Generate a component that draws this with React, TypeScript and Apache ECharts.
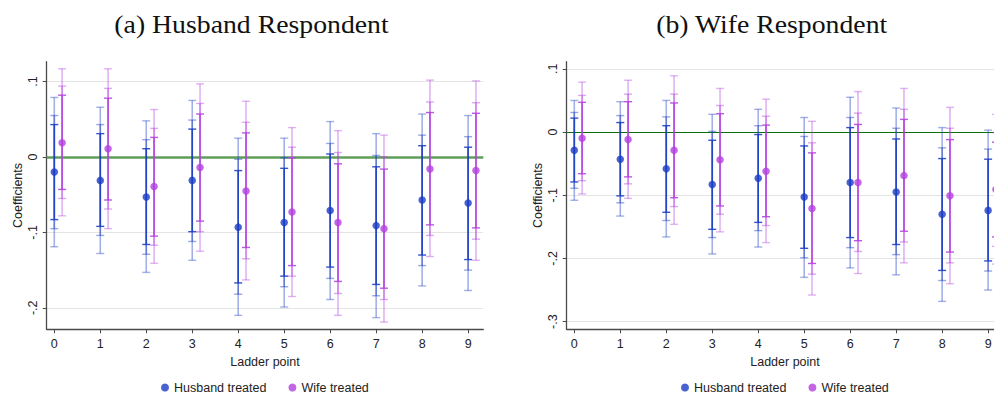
import React, { useEffect, useRef } from "react";
import * as echarts from "echarts";

const ladderPoints = [0, 1, 2, 3, 4, 5, 6, 7, 8, 9];
const xTickValues = [0, 1, 2, 3, 4, 5, 6, 7, 8, 9];
const yTicksA = [-0.2, -0.1, 0, 0.1];
const yTicksB = [-0.3, -0.2, -0.1, 0, 0.1];
const legendNames = ["Husband treated", "Wife treated"];
const panelTitles = ["(a) Husband Respondent", "(b) Wife Respondent"];

// Panel (a) Husband respondent — husband treated
const aHusPt = [-0.020, -0.031, -0.053, -0.031, -0.093, -0.087, -0.071, -0.091, -0.057, -0.061];
const aHusHi99 = [0.079, 0.066, 0.048, 0.075, 0.025, 0.025, 0.047, 0.031, 0.057, 0.055];
const aHusHi95 = [0.055, 0.043, 0.023, 0.049, -0.003, -0.001, 0.018, 0.002, 0.029, 0.027];
const aHusHi90 = [0.043, 0.031, 0.011, 0.037, -0.018, -0.015, 0.004, -0.013, 0.015, 0.013];
const aHusLo90 = [-0.083, -0.092, -0.116, -0.099, -0.167, -0.158, -0.146, -0.169, -0.130, -0.136];
const aHusLo95 = [-0.095, -0.104, -0.129, -0.112, -0.182, -0.172, -0.161, -0.184, -0.144, -0.150];
const aHusLo99 = [-0.119, -0.128, -0.153, -0.137, -0.210, -0.199, -0.189, -0.213, -0.171, -0.177];

// Panel (a) — wife treated
const aWifPt = [0.019, 0.011, -0.039, -0.014, -0.045, -0.073, -0.087, -0.095, -0.016, -0.018];
const aWifHi99 = [0.117, 0.117, 0.063, 0.097, 0.074, 0.039, 0.035, 0.029, 0.102, 0.101];
const aWifHi95 = [0.094, 0.091, 0.038, 0.071, 0.046, 0.013, 0.006, 0.000, 0.073, 0.072];
const aWifHi90 = [0.082, 0.078, 0.026, 0.057, 0.032, -0.001, -0.009, -0.016, 0.059, 0.058];
const aWifLo90 = [-0.043, -0.057, -0.105, -0.085, -0.120, -0.144, -0.165, -0.174, -0.090, -0.094];
const aWifLo95 = [-0.055, -0.069, -0.117, -0.099, -0.135, -0.158, -0.181, -0.189, -0.104, -0.109];
const aWifLo99 = [-0.078, -0.095, -0.141, -0.125, -0.163, -0.185, -0.210, -0.219, -0.132, -0.137];

// Panel (b) Wife respondent — husband treated
const bHusPt = [-0.029, -0.043, -0.058, -0.083, -0.073, -0.103, -0.080, -0.095, -0.130, -0.124];
const bHusHi99 = [0.050, 0.048, 0.050, 0.028, 0.036, 0.023, 0.055, 0.038, 0.007, 0.003];
const bHusHi95 = [0.031, 0.026, 0.024, 0.001, 0.010, -0.007, 0.023, 0.006, -0.025, -0.027];
const bHusHi90 = [0.022, 0.015, 0.010, -0.013, -0.004, -0.022, 0.007, -0.011, -0.042, -0.043];
const bHusLo90 = [-0.079, -0.101, -0.127, -0.154, -0.143, -0.184, -0.167, -0.178, -0.219, -0.204];
const bHusLo95 = [-0.089, -0.112, -0.140, -0.167, -0.156, -0.199, -0.183, -0.194, -0.235, -0.220];
const bHusLo99 = [-0.108, -0.133, -0.166, -0.193, -0.182, -0.230, -0.215, -0.226, -0.268, -0.250];

// Panel (b) — wife treated
const bWifPt = [-0.010, -0.012, -0.029, -0.044, -0.062, -0.121, -0.080, -0.069, -0.101, -0.091];
const bWifHi99 = [0.079, 0.082, 0.089, 0.069, 0.052, 0.017, 0.064, 0.069, 0.039, 0.028];
const bWifHi95 = [0.058, 0.060, 0.060, 0.042, 0.025, -0.017, 0.030, 0.036, 0.006, -0.001];
const bWifHi90 = [0.047, 0.048, 0.046, 0.029, 0.011, -0.033, 0.012, 0.020, -0.012, -0.016];
const bWifLo90 = [-0.066, -0.071, -0.104, -0.117, -0.134, -0.208, -0.172, -0.157, -0.190, -0.166];
const bWifLo95 = [-0.077, -0.082, -0.118, -0.130, -0.148, -0.225, -0.189, -0.174, -0.207, -0.181];
const bWifLo99 = [-0.098, -0.105, -0.146, -0.158, -0.175, -0.258, -0.224, -0.207, -0.240, -0.209];

const BLUE = [26, 60, 196];
const MAGENTA = [180, 64, 224];
const WIFE_OFFSET = 0.17;

const rgba = (c: number[], a: number) => `rgba(${c[0]},${c[1]},${c[2]},${a})`;

const fmtY = (v: number) => {
  if (Math.abs(v) < 1e-9) return "0";
  return (v < 0 ? "-" : "") + Math.abs(v).toFixed(1).replace(/^0/, "");
};

function buildRows(offset: number, pt: number[], lo99: number[], hi99: number[], lo95: number[], hi95: number[], lo90: number[], hi90: number[]) {
  return ladderPoints.map((x, i) => [x + offset, pt[i], lo99[i], hi99[i], lo95[i], hi95[i], lo90[i], hi90[i]]);
}

function errorSeries(idx: number, rows: number[][], color: number[]) {
  const levels = [
    [2, 3, 0.4],
    [4, 5, 0.45],
    [6, 7, 0.88],
  ];
  return {
    type: "custom",
    xAxisIndex: idx,
    yAxisIndex: idx,
    data: rows,
    encode: { x: 0, y: 1 },
    silent: true,
    z: 3,
    renderItem: (params: any, api: any) => {
      const x = api.value(0);
      const children: any[] = [];
      levels.forEach(([lo, hi, a]) => {
        const p1 = api.coord([x, api.value(lo)]);
        const p2 = api.coord([x, api.value(hi)]);
        const stroke = rgba(color, a);
        children.push({ type: "line", shape: { x1: p1[0], y1: p1[1], x2: p2[0], y2: p2[1] }, style: { stroke, lineWidth: 1.6 } });
        children.push({ type: "line", shape: { x1: p1[0] - 4, y1: p1[1], x2: p1[0] + 4, y2: p1[1] }, style: { stroke, lineWidth: 1.4 } });
        children.push({ type: "line", shape: { x1: p2[0] - 4, y1: p2[1], x2: p2[0] + 4, y2: p2[1] }, style: { stroke, lineWidth: 1.4 } });
      });
      return { type: "group", children };
    },
  };
}

function pointSeries(idx: number, name: string, offset: number, pt: number[], color: number[], zeroColor?: string, zeroWidth?: number) {
  const s: any = {
    type: "scatter",
    name,
    xAxisIndex: idx,
    yAxisIndex: idx,
    data: ladderPoints.map((x, i) => [x + offset, pt[i]]),
    symbol: "circle",
    symbolSize: 7.5,
    itemStyle: { color: rgba(color, 1) },
    z: 5,
  };
  if (zeroColor) {
    s.markLine = {
      silent: true,
      symbol: "none",
      label: { show: false },
      lineStyle: { color: zeroColor, width: zeroWidth, type: "solid" },
      data: [{ yAxis: 0 }],
      z: 2,
    };
  }
  return s;
}

const AXIS_COLOR = "#4a4a4a";
const SANS = "Liberation Sans, Arial, sans-serif";

function xAxisCfg(idx: number) {
  return {
    type: "value",
    gridIndex: idx,
    min: -0.165,
    max: 9.33,
    name: "Ladder point",
    nameLocation: "middle",
    nameGap: 21,
    nameTextStyle: { fontSize: 12.5, color: "#222", fontFamily: SANS },
    axisLine: { show: true, onZero: false, lineStyle: { color: AXIS_COLOR, width: 1.3 } },
    axisTick: { show: true, length: 4, customValues: xTickValues, lineStyle: { color: AXIS_COLOR } },
    axisLabel: { customValues: xTickValues, fontSize: 12.5, color: "#222", fontFamily: SANS, margin: 8 },
    splitLine: { show: false },
  };
}

function yAxisCfg(idx: number, min: number, max: number, ticks: number[]) {
  return {
    type: "value",
    gridIndex: idx,
    min,
    max,
    name: "Coefficients",
    nameLocation: "middle",
    nameRotate: 90,
    nameGap: 22,
    nameTextStyle: { fontSize: 12.5, color: "#222", fontFamily: SANS },
    axisLine: { show: true, onZero: false, lineStyle: { color: AXIS_COLOR, width: 1.3 } },
    axisTick: { show: true, length: 4, customValues: ticks, lineStyle: { color: AXIS_COLOR } },
    axisLabel: { customValues: ticks, rotate: 90, formatter: fmtY, fontSize: 12.5, color: "#222", fontFamily: SANS, margin: 7 },
    splitLine: { show: true, lineStyle: { color: "#e4e4e4", width: 1 } },
  };
}

const titleStyle = (text: string) => ({
  text,
  fontFamily: "Liberation Serif, serif",
  fontSize: 25,
  fill: "#111",
  textAlign: "center",
  textVerticalAlign: "middle",
});

export default function App() {
  const ref = useRef<HTMLDivElement>(null);
  useEffect(() => {
    if (!ref.current) return;
    const chart = echarts.init(ref.current, undefined, { renderer: "svg" });
    const aHusRows = buildRows(0, aHusPt, aHusLo99, aHusHi99, aHusLo95, aHusHi95, aHusLo90, aHusHi90);
    const aWifRows = buildRows(WIFE_OFFSET, aWifPt, aWifLo99, aWifHi99, aWifLo95, aWifHi95, aWifLo90, aWifHi90);
    const bHusRows = buildRows(0, bHusPt, bHusLo99, bHusHi99, bHusLo95, bHusHi95, bHusLo90, bHusHi90);
    const bWifRows = buildRows(WIFE_OFFSET, bWifPt, bWifLo99, bWifHi99, bWifLo95, bWifHi95, bWifLo90, bWifHi90);

    chart.setOption({
      animation: false,
      backgroundColor: "#ffffff",
      grid: [
        { left: 46.7, top: 61.7, width: 436.6, height: 267.6 },
        { left: 566.7, top: 61.7, width: 436.6, height: 267.6 },
      ],
      xAxis: [xAxisCfg(0), xAxisCfg(1)],
      yAxis: [yAxisCfg(0, -0.2285, 0.1264, yTicksA), yAxisCfg(1, -0.3122, 0.1113, yTicksB)],
      legend: [
        {
          data: legendNames,
          left: 156,
          top: 376,
          icon: "circle",
          itemWidth: 8,
          itemHeight: 8,
          itemGap: 22,
          textStyle: { fontSize: 12.5, color: "#222", fontFamily: SANS },
          selectedMode: false,
        },
        {
          data: legendNames,
          left: 676,
          top: 376,
          icon: "circle",
          itemWidth: 8,
          itemHeight: 8,
          itemGap: 22,
          textStyle: { fontSize: 12.5, color: "#222", fontFamily: SANS },
          selectedMode: false,
        },
      ],
      graphic: [
        { type: "text", x: 251.5, y: 24, scaleX: 1.11, style: titleStyle(panelTitles[0]) },
        { type: "text", x: 771.7, y: 24, scaleX: 1.11, style: titleStyle(panelTitles[1]) },
      ],
      series: [
        errorSeries(0, aHusRows, BLUE),
        errorSeries(0, aWifRows, MAGENTA),
        pointSeries(0, legendNames[0], 0, aHusPt, BLUE, "#5f9e5a", 2.5),
        pointSeries(0, legendNames[1], WIFE_OFFSET, aWifPt, MAGENTA),
        errorSeries(1, bHusRows, BLUE),
        errorSeries(1, bWifRows, MAGENTA),
        pointSeries(1, legendNames[0], 0, bHusPt, BLUE, "#0a700a", 1.2),
        pointSeries(1, legendNames[1], WIFE_OFFSET, bWifPt, MAGENTA),
      ],
    });
    return () => chart.dispose();
  }, []);
  return (
    <div style={{ position: "fixed", left: 0, top: 0, width: 994, height: 396, overflow: "hidden", background: "#fff" }}>
      <div ref={ref} style={{ width: 1012, height: 396 }} />
    </div>
  );
}
